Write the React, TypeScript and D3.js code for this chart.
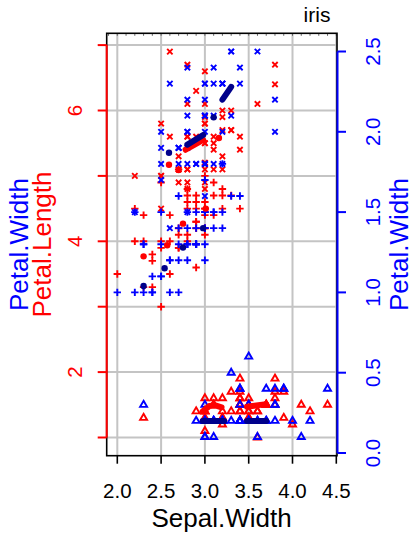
import React from "react";
import * as d3 from "d3";

// ---- data (iris) ----
const setosaSW = [3.5,3.0,3.2,3.1,3.6,3.9,3.4,3.4,2.9,3.1,3.7,3.4,3.0,3.0,4.0,4.4,3.9,3.5,3.8,3.8,3.4,3.7,3.6,3.3,3.4,3.0,3.4,3.5,3.4,3.2,3.1,3.4,4.1,4.2,3.1,3.2,3.5,3.6,3.0,3.4,3.5,2.3,3.2,3.5,3.8,3.0,3.8,3.2,3.7,3.3];
const setosaPL = [1.4,1.4,1.3,1.5,1.4,1.7,1.4,1.5,1.4,1.5,1.5,1.6,1.4,1.1,1.2,1.5,1.3,1.4,1.7,1.5,1.7,1.5,1.0,1.7,1.9,1.6,1.6,1.5,1.4,1.6,1.6,1.5,1.5,1.4,1.5,1.2,1.3,1.4,1.3,1.5,1.3,1.3,1.3,1.6,1.9,1.4,1.6,1.4,1.5,1.4];
const setosaPW = [0.2,0.2,0.2,0.2,0.2,0.4,0.3,0.2,0.2,0.1,0.2,0.2,0.1,0.1,0.2,0.4,0.4,0.3,0.3,0.3,0.2,0.4,0.2,0.5,0.2,0.2,0.4,0.2,0.2,0.2,0.2,0.4,0.1,0.2,0.2,0.2,0.2,0.1,0.2,0.2,0.3,0.3,0.2,0.6,0.4,0.3,0.2,0.2,0.2,0.2];

const versicolorSW = [3.2,3.2,3.1,2.3,2.8,2.8,3.3,2.4,2.9,2.7,2.0,3.0,2.2,2.9,2.9,3.1,3.0,2.7,2.2,2.5,3.2,2.8,2.5,2.8,2.9,3.0,2.8,3.0,2.9,2.6,2.4,2.4,2.7,2.7,3.0,3.4,3.1,2.3,3.0,2.5,2.6,3.0,2.6,2.3,2.7,3.0,2.9,2.9,2.5,2.8];
const versicolorPL = [4.7,4.5,4.9,4.0,4.6,4.5,4.7,3.3,4.6,3.9,3.5,4.2,4.0,4.7,3.6,4.4,4.5,4.1,4.5,3.9,4.8,4.0,4.9,4.7,4.3,4.4,4.8,5.0,4.5,3.5,3.8,3.7,3.9,5.1,4.5,4.5,4.7,4.4,4.1,4.0,4.4,4.6,4.0,3.3,4.2,4.2,4.2,4.3,3.0,4.1];
const versicolorPW = [1.4,1.5,1.5,1.3,1.5,1.3,1.6,1.0,1.3,1.4,1.0,1.5,1.0,1.4,1.3,1.4,1.5,1.0,1.5,1.1,1.8,1.3,1.5,1.2,1.3,1.4,1.4,1.7,1.5,1.0,1.1,1.0,1.2,1.6,1.5,1.6,1.5,1.3,1.3,1.3,1.2,1.4,1.2,1.0,1.3,1.2,1.3,1.3,1.1,1.3];

const virginicaSW = [3.3,2.7,3.0,2.9,3.0,3.0,2.5,2.9,2.5,3.6,3.2,2.7,3.0,2.5,2.8,3.2,3.0,3.8,2.6,2.2,3.2,2.8,2.8,2.7,3.3,3.2,2.8,3.0,2.8,3.0,2.8,3.8,2.8,2.8,2.6,3.0,3.4,3.1,3.0,3.1,3.1,3.1,2.7,3.2,3.3,3.0,2.5,3.0,3.4,3.0];
const virginicaPL = [6.0,5.1,5.9,5.6,5.8,6.6,4.5,6.3,5.8,6.1,5.1,5.3,5.5,5.0,5.1,5.3,5.5,6.7,6.9,5.0,5.7,4.9,6.7,4.9,5.7,6.0,4.8,4.9,5.6,5.8,6.1,6.4,5.6,5.1,5.6,6.1,5.6,5.5,4.8,5.4,5.6,5.1,5.1,5.9,5.7,5.2,5.0,5.2,5.4,5.1];
const virginicaPW = [2.5,1.9,2.1,1.8,2.2,2.1,1.7,1.8,1.8,2.5,2.0,1.9,2.1,2.0,2.4,2.3,1.8,2.2,2.3,1.5,2.3,2.0,2.0,1.8,2.1,1.8,1.8,1.8,2.1,1.6,1.9,2.0,2.2,1.5,1.4,2.3,2.4,1.8,1.8,2.1,2.4,2.3,1.9,2.3,2.5,2.3,1.9,2.0,2.3,1.8];

// smoother pieces (single point = dot)
const lengthFit: number[][][] = [
  [[2.30, 3.77]], [[2.57, 3.94]], [[2.75, 4.27]], [[3.01, 4.50]],
  [[2.59, 5.17]], [[2.70, 5.09]], [[2.78, 5.40], [2.98, 5.55]], [[3.16, 5.58]],
  [[2.975, 1.40], [3.05, 1.48], [3.12, 1.49], [3.19, 1.46]], [[3.48, 1.47], [3.70, 1.51]],
];
const widthFit: number[][][] = [
  [[2.30, 1.04]], [[2.54, 1.15]], [[2.75, 1.28]], [[2.98, 1.40]],
  [[2.59, 1.87]], [[2.80, 1.92], [2.98, 1.98]], [[3.10, 2.09]], [[3.20, 2.20], [3.30, 2.28]],
  [[2.975, 0.2], [3.22, 0.2]], [[3.48, 0.2], [3.70, 0.2]],
];

const xTicks = [2.0, 2.5, 3.0, 3.5, 4.0, 4.5];
const lengthTicks = [1, 2, 3, 4, 5, 6, 7];
const lengthLabels = [2, 4, 6];
const widthTicks = [0, 0.5, 1.0, 1.5, 2.0, 2.5];

const RED = "#FF0000";
const BLUE = "#0000FF";
const NAVY = "#00008B";
const FONT = "'Liberation Sans', Arial, Helvetica, sans-serif";

const box = { left: 106.7, right: 337, top: 33.3, bottom: 455.7 };
const x = d3.scaleLinear().domain([2, 4.5]).range([117.3, 336.3]);
const yL = d3.scaleLinear().domain([1, 7]).range([437.5, 45.1]);
const yW = d3.scaleLinear().domain([0, 2.5]).range([453, 51.5]);

const triPath = "M0,-4.04L3.5,2.02L-3.5,2.02Z";
const plusPath = "M-3.7,0H3.7M0,-3.7V3.7";
const crossPath = "M-2.7,-2.7L2.7,2.7M-2.7,2.7L2.7,-2.7";

function Marks({ sw, vals, y, color, path }: any) {
  return (
    <g stroke={color} strokeWidth={1.9} fill="none">
      {sw.map((s: number, i: number) => (
        <path key={i} d={path} transform={`translate(${x(s)},${y(vals[i])})`} />
      ))}
    </g>
  );
}

function Fit({ pieces, y, color }: any) {
  const line = d3.line<number[]>().x((d) => x(d[0])).y((d) => y(d[1]));
  return (
    <g>
      {pieces.map((p: number[][], i: number) =>
        p.length === 1 ? (
          <circle key={i} cx={x(p[0][0])} cy={y(p[0][1])} r={3.2} fill={color} />
        ) : (
          <path key={i} d={line(p) || ""} stroke={color} strokeWidth={6} fill="none" strokeLinecap="round" strokeLinejoin="round" />
        )
      )}
    </g>
  );
}

export default function App() {
  const rug = d3.range(19, 46).map((v) => v / 10);
  return (
    <svg width={416} height={538} style={{ position: "absolute", left: 0, top: 0, background: "#fff" }} fontFamily={FONT}>
      <rect x={0} y={0} width={416} height={538} fill="#fff" />
      {/* grid */}
      <g stroke="#C4C4C4" strokeWidth={2}>
        {xTicks.map((t) => (
          <line key={t} x1={x(t)} x2={x(t)} y1={box.top} y2={box.bottom} />
        ))}
        {lengthTicks.map((t) => (
          <line key={t} x1={box.left} x2={box.right} y1={yL(t)} y2={yL(t)} />
        ))}
      </g>
      {/* top rug ticks */}
      <g stroke="#666" strokeWidth={1}>
        {rug.map((t) => (
          <line key={t} x1={x(t)} x2={x(t)} y1={box.top} y2={box.top + 2.5} />
        ))}
      </g>
      {/* points */}
      <Marks sw={setosaSW} vals={setosaPL} y={yL} color={RED} path={triPath} />
      <Marks sw={versicolorSW} vals={versicolorPL} y={yL} color={RED} path={plusPath} />
      <Marks sw={virginicaSW} vals={virginicaPL} y={yL} color={RED} path={crossPath} />
      <Marks sw={setosaSW} vals={setosaPW} y={yW} color={BLUE} path={triPath} />
      <Marks sw={versicolorSW} vals={versicolorPW} y={yW} color={BLUE} path={plusPath} />
      <Marks sw={virginicaSW} vals={virginicaPW} y={yW} color={BLUE} path={crossPath} />
      {/* smoothers */}
      <Fit pieces={lengthFit} y={yL} color={RED} />
      <Fit pieces={widthFit} y={yW} color={NAVY} />
      {/* box */}
      <rect x={box.left} y={box.top} width={box.right - box.left} height={box.bottom - box.top} fill="none" stroke="#000" strokeWidth={1.6} />
      {/* x axis */}
      <g stroke="#000" strokeWidth={1.6}>
        {xTicks.map((t) => (
          <line key={t} x1={x(t)} x2={x(t)} y1={box.bottom} y2={box.bottom + 8} />
        ))}
      </g>
      <g fontSize={20.5} textAnchor="middle" fill="#000">
        {xTicks.map((t) => (
          <text key={t} x={x(t)} y={497.5}>{d3.format(".1f")(t)}</text>
        ))}
      </g>
      <text x={221.5} y={527} fontSize={26} textAnchor="middle" fill="#000">Sepal.Width</text>
      {/* left red axis */}
      <g stroke={RED} strokeWidth={2}>
        <line x1={box.left} x2={box.left} y1={yL(7)} y2={yL(1)} />
        {lengthTicks.map((t) => (
          <line key={t} x1={box.left} x2={box.left - 9} y1={yL(t)} y2={yL(t)} />
        ))}
      </g>
      <g fontSize={20.5} textAnchor="middle" fill={RED}>
        {lengthLabels.map((t) => (
          <text key={t} transform={`translate(81.7,${yL(t)}) rotate(-90)`}>{t}</text>
        ))}
      </g>
      {/* right blue axis */}
      <g stroke={BLUE} strokeWidth={2}>
        <line x1={box.right + 0.5} x2={box.right + 0.5} y1={yW(2.5)} y2={yW(0)} />
        {widthTicks.map((t) => (
          <line key={t} x1={box.right + 0.5} x2={box.right + 9} y1={yW(t)} y2={yW(t)} />
        ))}
      </g>
      <g fontSize={20.5} textAnchor="middle" fill={BLUE}>
        {widthTicks.map((t) => (
          <text key={t} transform={`translate(380,${yW(t)}) rotate(-90)`}>{d3.format(".1f")(t)}</text>
        ))}
      </g>
      {/* axis titles */}
      <text transform="translate(28.3,244.5) rotate(-90)" fontSize={26} textAnchor="middle" fill={BLUE}>Petal.Width</text>
      <text transform="translate(50.5,244.5) rotate(-90)" fontSize={26} textAnchor="middle" fill={RED}>Petal.Length</text>
      <text transform="translate(407.5,244.5) rotate(-90)" fontSize={26} textAnchor="middle" fill={BLUE}>Petal.Width</text>
      {/* title */}
      <text x={317} y={21.7} fontSize={21} textAnchor="middle" fill="#000">iris</text>
    </svg>
  );
}
